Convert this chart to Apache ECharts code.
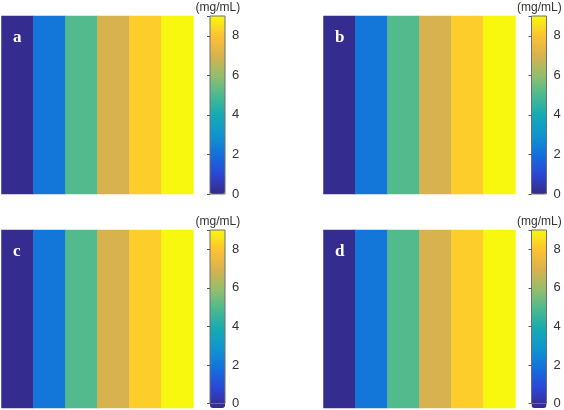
<!DOCTYPE html>
<html>
<head>
<meta charset="utf-8">
<script src="https://cdn.jsdelivr.net/npm/echarts@6/dist/echarts.min.js"></script>
<style>
html,body{margin:0;padding:0;background:#fff;}
#chart{width:564px;height:410px;}
</style>
</head>
<body>
<div id="chart"></div>
<script>
// ---- data ----
const columns = ['1', '2', '3', '4', '5', '6'];
const rows = ['r'];
const panelLabels = ['a', 'b', 'c', 'd'];
const valuesA = [0.1, 2.2, 5.1, 7.0, 8.2, 9.0];
const valuesB = [0.1, 2.2, 5.1, 7.0, 8.2, 9.0];
const valuesC = [0.1, 2.2, 5.1, 7.0, 8.2, 9.0];
const valuesD = [0.1, 2.2, 5.1, 7.0, 8.2, 9.0];
const colorbarMin = 0;
const colorbarMax = 9;
const colorbarTicks = [0, 2, 4, 6, 8];
const unitLabel = '(mg/mL)';

// ---- style / layout ----
const palette = ['#352a87', '#2b47d6', '#1470dc', '#0f95cf', '#17aab2', '#4bba8f', '#95bd6c', '#d8b24e', '#fdc232', '#f8f80e'];
const panels = [
  { vals: valuesA, hx: 1.5, hy: 16, cx: 210, label: 'a' },
  { vals: valuesB, hx: 323.5, hy: 16, cx: 531.5, label: 'b' },
  { vals: valuesC, hx: 1.5, hy: 230, cx: 210, label: 'c' },
  { vals: valuesD, hx: 323.5, hy: 230, cx: 531.5, label: 'd' }
];
const HW = 192, HH = 178, CW = 15;

const grid = [], xAxis = [], yAxis = [], series = [], visualMap = [], graphic = [];
panels.forEach((p, i) => {
  // heatmap grid
  grid.push({ left: p.hx, top: p.hy, width: HW, height: HH, containLabel: false });
  xAxis.push({ type: 'category', data: columns, gridIndex: 2 * i, show: false });
  yAxis.push({ type: 'category', data: rows, gridIndex: 2 * i, show: false });
  series.push({
    type: 'heatmap', xAxisIndex: 2 * i, yAxisIndex: 2 * i,
    data: p.vals.map((v, k) => [k, 0, v]),
    itemStyle: { borderWidth: 0 },
    emphasis: { disabled: true }
  });
  // colorbar grid (box + ticks)
  grid.push({ left: p.cx, top: p.hy, width: CW, height: HH, show: true, borderColor: '#6e6e6e', borderWidth: 1, backgroundColor: 'transparent', z: 10 });
  xAxis.push({ type: 'value', gridIndex: 2 * i + 1, show: false, min: 0, max: 1 });
  yAxis.push({
    type: 'value', gridIndex: 2 * i + 1, position: 'right', z: 10,
    min: colorbarMin, max: colorbarMax, interval: 2,
    axisLine: { show: false },
    splitLine: { show: false },
    axisTick: { show: true, inside: true, length: 3, lineStyle: { color: '#555', width: 1 } },
    axisLabel: {
      show: true, margin: 7, color: '#333', fontSize: 13, fontFamily: 'Liberation Sans, Arial, sans-serif',
      customValues: colorbarTicks
    },
    axisTickCustom: colorbarTicks
  });
  visualMap.push({
    type: 'continuous', min: colorbarMin, max: colorbarMax, seriesIndex: i,
    left: p.cx, top: p.hy, itemWidth: CW, itemHeight: HH, padding: 0,
    calculable: false, text: null, hoverLink: false, orient: 'vertical',
    inRange: { color: palette }
  });
  graphic.push({
    type: 'text', left: p.cx + CW / 2 - 22, top: p.hy - 14, z: 20,
    style: { text: unitLabel, fill: '#333', font: '12px "Liberation Sans", Arial, sans-serif' }
  });
  graphic.push({
    type: 'text', left: p.hx + 11.5, top: p.hy + 13, z: 20,
    style: { text: p.label, fill: '#ffffff', font: 'bold 17px "Liberation Serif", "Times New Roman", serif' }
  });
});

const chart = echarts.init(document.getElementById('chart'), null, { renderer: 'canvas' });
chart.setOption({
  animation: false,
  backgroundColor: '#ffffff',
  grid, xAxis, yAxis, series, visualMap, graphic
});
</script>
</body>
</html>
